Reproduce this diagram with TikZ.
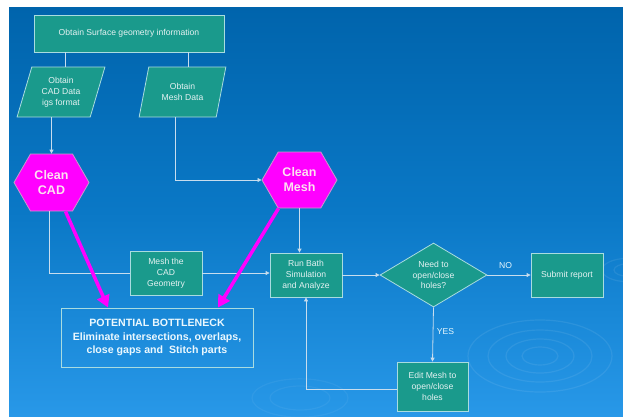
\documentclass[tikz,border=0pt]{standalone}
\usepackage{fontspec}
\setmainfont{Liberation Sans}
\usetikzlibrary{shapes.geometric,shapes.symbols,arrows.meta}

\definecolor{bgtop}{HTML}{0064AC}
\definecolor{bgmid}{HTML}{0A78C6}
\definecolor{bgbot}{HTML}{2898E8}
\definecolor{tealbox}{HTML}{1A9A8C}
\definecolor{edgeline}{HTML}{A9DCE0}
\definecolor{wireline}{HTML}{C8DDEE}
\definecolor{hotpink}{HTML}{FF00FF}

\tikzset{
  stepbox/.style={draw=edgeline, line width=0.8pt, fill=tealbox, text=white!90!teal,
    font=\fontsize{8.6}{10.8}\selectfont, align=center, inner sep=1pt},
  databox/.style={stepbox, trapezium, trapezium left angle=72, trapezium right angle=108,
    trapezium stretches=true},
  cleanhex/.style={draw=violet!40!white, line width=0.8pt, fill=hotpink, text=white!88!magenta,
    font=\fontsize{12.5}{15}\bfseries\selectfont, align=center, shape=signal,
    signal to=east and west, signal pointer angle=120, inner sep=0pt},
  wire/.style={draw=wireline, line width=0.8pt},
  flow/.style={wire, -{Triangle[length=4pt,width=4pt]}},
  hotflow/.style={draw=hotpink, line width=3.5pt, -{Triangle[length=12pt,width=13pt]}},
  ripple/.style={draw=white, opacity=0.08, line width=1.2pt}
}

\begin{document}
\begin{tikzpicture}[x=1pt, y=-1pt]
  % page and background
  \fill[white] (0,0) rectangle (623,416);
  \shade[top color=bgtop, bottom color=bgbot, middle color=bgmid] (9,7) rectangle (623,416);
  \useasboundingbox (0,0) rectangle (623,416);
  % ripples
  \begin{scope}
    \clip (9,7) rectangle (623,416);
    \foreach \r in {18,34,52,72}
      \draw[ripple] (540,356) ellipse ({\r pt} and {0.5*\r pt});
    \foreach \r in {14,26}
      \draw[ripple] (628,270) ellipse ({\r pt} and {0.45*\r pt});
    \foreach \r in {30,48}
      \draw[ripple, opacity=0.05] (300,398) ellipse ({\r pt} and {0.4*\r pt});
  \end{scope}

  % nodes
  \node[stepbox, minimum width=190pt, minimum height=37pt] (surf) at (129,33.5) {Obtain Surface geometry information};
  \node[databox, minimum width=88pt, minimum height=50pt] (caddata) at (61,92) {Obtain\\CAD Data\\igs format};
  \node[databox, minimum width=87pt, minimum height=50pt] (meshdata) at (182.5,92) {Obtain\\Mesh Data};
  \node[cleanhex, minimum width=75pt, minimum height=57pt] (cleancad) at (51.5,182.5) {Clean\\CAD};
  \node[cleanhex, minimum width=75pt, minimum height=56pt] (cleanmesh) at (299.5,180) {Clean\\Mesh};
  \node[stepbox, minimum width=72pt, minimum height=44pt] (meshcad) at (166,273) {Mesh the\\CAD\\Geometry};
  \node[stepbox, minimum width=72pt, minimum height=44pt] (runbath) at (306,275) {Run Bath\\Simulation\\and Analyze};
  \node[stepbox, diamond, aspect=1.67, inner sep=0pt, minimum width=107pt, minimum height=64pt] (needholes) at (433.5,275) {Need to\\open/close\\holes?};
  \node[stepbox, minimum width=72pt, minimum height=44pt] (submit) at (567,275) {Submit report};
  \node[stepbox, minimum width=71pt, minimum height=49pt] (editmesh) at (432.5,386.5) {Edit Mesh to\\open/close\\holes};
  \node[draw=edgeline, line width=0.9pt, text=white!92!cyan, align=center,
    font=\fontsize{10.6}{13.5}\bfseries\selectfont, minimum width=192pt, minimum height=59pt, inner sep=0pt]
    (bottleneck) at (157,337.5) {POTENTIAL BOTTLENECK\\Eliminate intersections, overlaps,\\close gaps and~ Stitch parts};

  % connectors
  \draw[wire] ([xshift=4pt]caddata.north) -- ([xshift=4pt]caddata.north |- surf.south);
  \draw[wire] ([xshift=5.5pt]meshdata.north) -- ([xshift=5.5pt]meshdata.north |- surf.south);
  \draw[flow] (caddata.south -| cleancad.north) -- (cleancad.north);
  \draw[flow] ([xshift=-7.5pt]meshdata.south) |- (cleanmesh.west);
  \draw[flow] (cleanmesh.south) -- (cleanmesh.south |- runbath.north);
  \draw[wire] ([xshift=-2pt]cleancad.south) |- (meshcad.west);
  \draw[flow] (meshcad.east) -- (meshcad.east -| runbath.west);
  \draw[flow] (runbath.east) -- (needholes.west);
  \draw[flow] (needholes.east) -- node[above=3pt, pos=0.42, text=white!90!cyan, font=\fontsize{8.6}{10}\selectfont] {NO} (submit.west);
  \draw[flow] (needholes.south) -- node[right=0pt, pos=0.45, text=white!90!cyan, font=\fontsize{8.6}{10}\selectfont] {YES} (editmesh.north);
  \draw[flow] ([yshift=-3pt]editmesh.west) -| (runbath.south);
  \draw[hotflow] ([xshift=14pt]cleancad.south) -- ([xshift=-49pt]bottleneck.north);
  \draw[hotflow] ([xshift=-21pt]cleanmesh.south) -- ([xshift=61pt]bottleneck.north);
\end{tikzpicture}
\end{document}
